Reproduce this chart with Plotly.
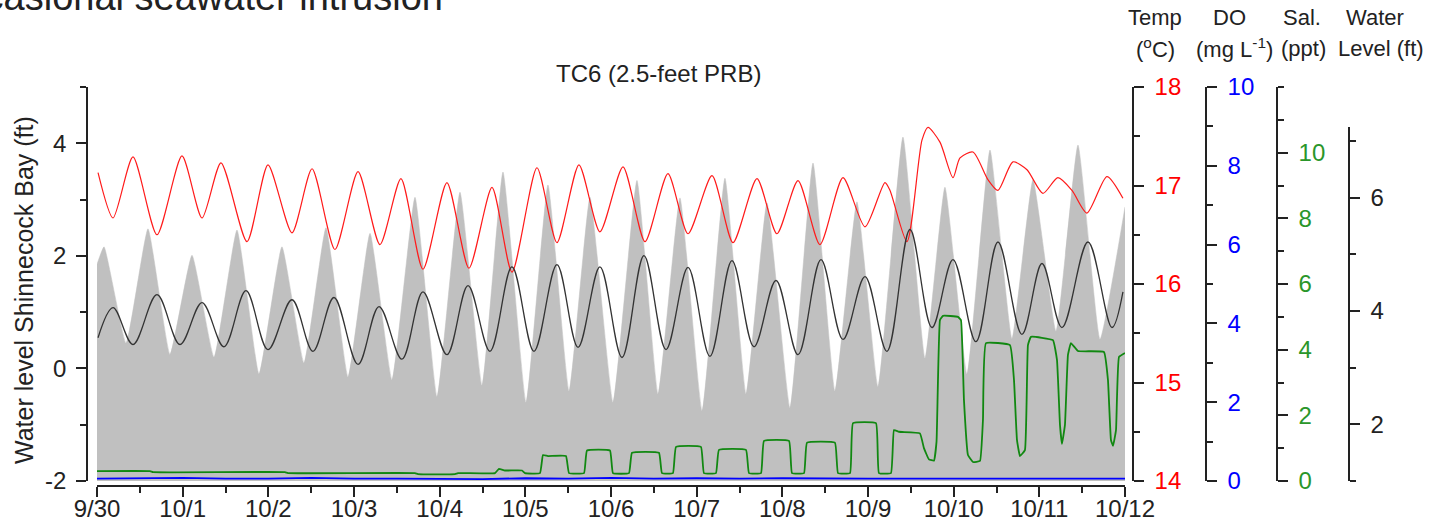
import plotly.graph_objects as go

W, H = 1433, 526
FONT = "Liberation Sans, Arial, sans-serif"

# ---- time axis: days after 9/30 00:00 ----
day_ticks = list(range(13))
day_labels = ["9/30", "10/1", "10/2", "10/3", "10/4", "10/5", "10/6",
              "10/7", "10/8", "10/9", "10/10", "10/11", "10/12"]

# ---- Shinnecock Bay water level (ft), high / low tides ----
bay_t = [0.0, 0.082, 0.339, 0.595, 0.852, 1.109, 1.366, 1.634, 1.891, 2.159,
         2.416, 2.673, 2.930, 3.187, 3.443, 3.712, 3.969, 4.237, 4.494, 4.739,
         5.008, 5.264, 5.510, 5.755, 6.023, 6.303, 6.549, 6.805, 7.063, 7.330,
         7.576, 7.821, 8.089, 8.358, 8.614, 8.871, 9.116, 9.408, 9.665, 9.898,
         10.155, 10.424, 10.680, 10.926, 11.194, 11.451, 11.708, 12.0]
bay_ft = [1.85, 2.16, 0.45, 2.48, 0.25, 2.01, 0.20, 2.46, -0.10, 2.16,
          0.10, 2.50, -0.15, 2.40, -0.20, 3.04, -0.50, 3.13, -0.30, 3.49,
          -0.60, 3.26, -0.40, 3.04, -0.60, 3.34, -0.45, 3.03, -0.75, 3.38,
          -0.45, 2.94, -0.70, 3.65, -0.40, 2.96, -0.32, 4.11, 0.18, 3.22,
          -0.10, 3.88, 0.53, 3.35, 0.66, 3.97, 0.52, 2.87]

# ---- TC6 temperature (deg C) ----
temp_t = [0.012, 0.187, 0.420, 0.700, 0.992, 1.226, 1.447, 1.751, 1.996, 2.276,
          2.510, 2.778, 3.047, 3.303, 3.548, 3.805, 4.085, 4.342, 4.611, 4.844,
          5.136, 5.369, 5.626, 5.871, 6.140, 6.397, 6.665, 6.899, 7.179, 7.424,
          7.704, 7.937, 8.183, 8.439, 8.708, 8.965, 9.198, 9.257, 9.455, 9.630,
          9.700, 9.840, 9.992, 10.074, 10.225, 10.400, 10.517, 10.692, 10.856,
          11.042, 11.217, 11.381, 11.556, 11.789, 11.976]
temp_c = [17.13, 16.67, 17.29, 16.50, 17.30, 16.67, 17.23, 16.43, 17.21, 16.52,
          17.17, 16.35, 17.14, 16.40, 17.07, 16.15, 17.03, 16.16, 16.98, 16.12,
          17.18, 16.42, 17.21, 16.53, 17.19, 16.43, 17.12, 16.51, 17.10, 16.42,
          17.07, 16.51, 17.05, 16.40, 17.08, 16.58, 17.03, 16.95, 16.43, 17.46,
          17.59, 17.44, 17.08, 17.28, 17.34, 17.06, 16.95, 17.24, 17.16,
          16.92, 17.08, 16.95, 16.72, 17.09, 16.87]

# ---- TC6 dissolved oxygen (mg/L) ----
do_t = [0.0, 0.5, 1.0, 1.5, 2.0, 2.5, 3.0, 3.5, 4.0, 4.5, 5.0, 5.5, 6.0,
        6.5, 7.0, 7.5, 8.0, 8.5, 9.0, 9.5, 10.0, 10.5, 11.0, 11.5, 12.0]
do_mg = [0.06, 0.07, 0.08, 0.06, 0.06, 0.08, 0.06, 0.06, 0.05, 0.05, 0.07, 0.06, 0.08,
         0.06, 0.07, 0.06, 0.07, 0.06, 0.06, 0.06, 0.06, 0.06, 0.06, 0.06, 0.06]

# ---- TC6 salinity (ppt) ----
sal_t = [0.0, 0.619, 0.654, 2.194, 2.229, 3.712, 3.747, 4.179, 4.214, 4.646,
         4.692, 4.762, 4.961, 4.996, 5.171, 5.206, 5.264, 5.474, 5.510,
         5.685, 5.720, 5.988, 6.023,
         6.210, 6.245, 6.560, 6.595,
         6.723, 6.759, 7.050, 7.085,
         7.225, 7.260, 7.576, 7.611,
         7.751, 7.786, 8.078, 8.113,
         8.253, 8.288, 8.614, 8.650,
         8.790, 8.825, 9.093, 9.128,
         9.268, 9.303, 9.361, 9.606, 9.653, 9.711, 9.770, 9.800, 9.840, 9.875,
         10.050, 10.085, 10.120, 10.167, 10.225, 10.307, 10.342, 10.377,
         10.657, 10.704, 10.739, 10.774, 10.832, 10.867, 10.902,
         11.159, 11.206, 11.241, 11.264, 11.299, 11.334, 11.369,
         11.451, 11.754, 11.801, 11.836, 11.860, 11.895, 11.930, 12.0]
sal_ppt = [0.30, 0.30, 0.27, 0.27, 0.24, 0.24, 0.21, 0.21, 0.24, 0.24,
           0.37, 0.32, 0.32, 0.24, 0.24, 0.79, 0.76, 0.76, 0.24,
           0.24, 0.93, 0.93, 0.24,
           0.24, 0.86, 0.86, 0.24,
           0.24, 1.04, 1.04, 0.24,
           0.24, 0.95, 0.95, 0.24,
           0.24, 1.22, 1.22, 0.24,
           0.24, 1.17, 1.17, 0.24,
           0.24, 1.76, 1.76, 0.24,
           0.24, 1.55, 1.50, 1.45, 1.00, 0.66, 0.62, 1.20, 4.90, 5.03,
           5.00, 4.90, 2.47, 0.79, 0.58, 0.61, 1.86, 4.20,
           4.14, 3.08, 1.25, 0.76, 0.94, 4.14, 4.39,
           4.29, 3.69, 1.71, 1.13, 1.71, 3.84, 4.20,
           3.96, 3.93, 3.08, 1.25, 1.07, 1.55, 3.78, 3.90]

# ---- TC6 well water level (ft) ----
well_t = [0.012, 0.187, 0.420, 0.700, 0.969, 1.226, 1.482, 1.739, 1.996, 2.276,
          2.521, 2.766, 3.047, 3.292, 3.560, 3.805, 4.085, 4.331, 4.587, 4.844,
          5.101, 5.369, 5.615, 5.871, 6.128, 6.385, 6.642, 6.899, 7.155, 7.412,
          7.669, 7.926, 8.183, 8.451, 8.708, 8.965, 9.221, 9.490, 9.747, 9.992,
          10.260, 10.517, 10.797, 11.031, 11.264, 11.568, 11.848, 11.976]
well_ft = [3.53, 4.06, 3.41, 4.29, 3.41, 4.15, 3.37, 4.36, 3.32, 4.20,
           3.29, 4.24, 3.06, 4.08, 3.15, 4.34, 3.23, 4.45, 3.29, 4.78,
           3.29, 4.82, 3.36, 4.78, 3.18, 4.98, 3.32, 4.77, 3.20, 4.89,
           3.37, 4.54, 3.23, 4.91, 3.50, 4.61, 3.29, 5.44, 3.71, 4.91,
           3.46, 5.22, 3.59, 4.84, 3.71, 5.22, 3.71, 4.34]

# ---- axis ranges and tick labels ----
bay_range = [-2, 5]
bay_ticks = [-2, 0, 2, 4]
bay_labels = ["-2", "0", "2", "4"]
temp_range = [14, 18]
do_range = [0, 10]
sal_range = [0, 12]
well_range = [1, 7.25]


def px(x):
    return x / W


def py(y):
    return 1 - y / H


plot_left, plot_right = 97, 1125
plot_top, plot_bottom = 87, 481
well_top = 127

fig = go.Figure()

# baseline for the bay fill
fig.add_trace(go.Scatter(x=[0, 12], y=[bay_range[0]] * 2, mode="lines",
                         line=dict(width=0, color="#c0c0c0"), hoverinfo="skip"))
fig.add_trace(go.Scatter(x=bay_t, y=bay_ft, mode="lines", fill="tonexty",
                         fillcolor="#c0c0c0",
                         line=dict(width=0.5, color="#c0c0c0", shape="spline", smoothing=0.4)))
fig.add_trace(go.Scatter(x=temp_t, y=temp_c, yaxis="y2", mode="lines",
                         line=dict(width=1.2, color="#ff1a1a", shape="spline", smoothing=0.7)))
fig.add_trace(go.Scatter(x=do_t, y=do_mg, yaxis="y3", mode="lines",
                         line=dict(width=1.8, color="#0000ff")))
fig.add_trace(go.Scatter(x=sal_t, y=sal_ppt, yaxis="y4", mode="lines",
                         line=dict(width=1.8, color="#118811", shape="spline", smoothing=0.3)))
fig.add_trace(go.Scatter(x=well_t, y=well_ft, yaxis="y5", mode="lines",
                         line=dict(width=1.3, color="#333333", shape="spline", smoothing=1.0)))

AX = "#222222"
common = dict(showline=True, linecolor=AX, linewidth=1.6, ticks="outside",
              ticklen=10, tickwidth=1.6, tickcolor=AX, showgrid=False,
              zeroline=False, automargin=False)


def minor(vals):
    return dict(tickvals=vals, ticks="outside", ticklen=6, tickwidth=1.6,
                tickcolor=AX, showgrid=False)


ydom = [py(plot_bottom), py(plot_top)]
tick_font = 24

fig.update_layout(
    width=W, height=H, autosize=False,
    margin=dict(l=0, r=0, t=0, b=0, pad=0, autoexpand=False),
    paper_bgcolor="white", plot_bgcolor="rgba(0,0,0,0)",
    showlegend=False,
    font=dict(family=FONT, color="#222222"),
    xaxis=dict(domain=[px(plot_left), px(plot_right)], range=[0, 12],
               anchor="free", position=py(486),
               tickmode="array", tickvals=day_ticks, ticktext=day_labels,
               minor=minor([d + 0.5 for d in day_ticks[:-1]]),
               ticklabelstandoff=-9,
               tickfont=dict(size=tick_font, color="#222222"), **common),
    yaxis=dict(domain=ydom, range=bay_range, anchor="free", position=px(87),
               side="left", tickmode="array", tickvals=bay_ticks, ticktext=bay_labels,
               minor=minor([-1, 1, 3, 5]), ticklabelstandoff=5,
               tickfont=dict(size=tick_font, color="#222222"), **common),
    yaxis2=dict(overlaying="y", range=temp_range, anchor="free",
                position=px(1133), side="right", tickmode="array",
                tickvals=[14, 15, 16, 17, 18],
                minor=minor([14.5, 15.5, 16.5, 17.5]), ticklabelstandoff=6,
                tickfont=dict(size=tick_font, color="#ff0000"), **common),
    yaxis3=dict(overlaying="y", range=do_range, anchor="free",
                position=px(1206), side="right", tickmode="array",
                tickvals=[0, 2, 4, 6, 8, 10],
                minor=minor([1, 3, 5, 7, 9]), ticklabelstandoff=6,
                tickfont=dict(size=tick_font, color="#0000ff"), **common),
    yaxis4=dict(overlaying="y", range=sal_range, anchor="free",
                position=px(1277), side="right", tickmode="array",
                tickvals=[0, 2, 4, 6, 8, 10],
                minor=minor([1, 3, 5, 7, 9, 11, 12]), ticklabelstandoff=6,
                tickfont=dict(size=tick_font, color="#2a962a"), **common),
    yaxis5=dict(domain=[py(plot_bottom), py(well_top)], range=well_range,
                anchor="free", position=px(1349), side="right",
                tickmode="array", tickvals=[2, 4, 6],
                minor=minor([1, 3, 5, 7]), ticklabelstandoff=6,
                tickfont=dict(size=tick_font, color="#222222"), **common),
)

ann = []


def label(text, x, y, size=22, color="#222222", **kw):
    ann.append(dict(text=text, x=px(x), y=py(y), xref="paper", yref="paper",
                    showarrow=False, font=dict(size=size, color=color, family=FONT),
                    xanchor=kw.get("xanchor", "center"), yanchor=kw.get("yanchor", "middle"),
                    textangle=kw.get("textangle", 0)))


label("TC6 (2.5-feet PRB)", 658, 74, size=24)
label("Water level Shinnecock Bay (ft)", 24, 290, size=25, textangle=-90)
label("Temp", 1155, 18)
label("(<sup>o</sup>C)", 1155, 48)
label("DO", 1229, 18)
label("(mg L<sup>-1</sup>)", 1234, 48)
label("Sal.", 1302, 18)
label("(ppt)", 1303, 48)
label("Water", 1375, 18)
label("Level (ft)", 1381, 48)
label("Occasional seawater intrusion", 445, -3, size=38, xanchor="right")

fig.update_layout(annotations=ann)
fig.write_html("out.html")
